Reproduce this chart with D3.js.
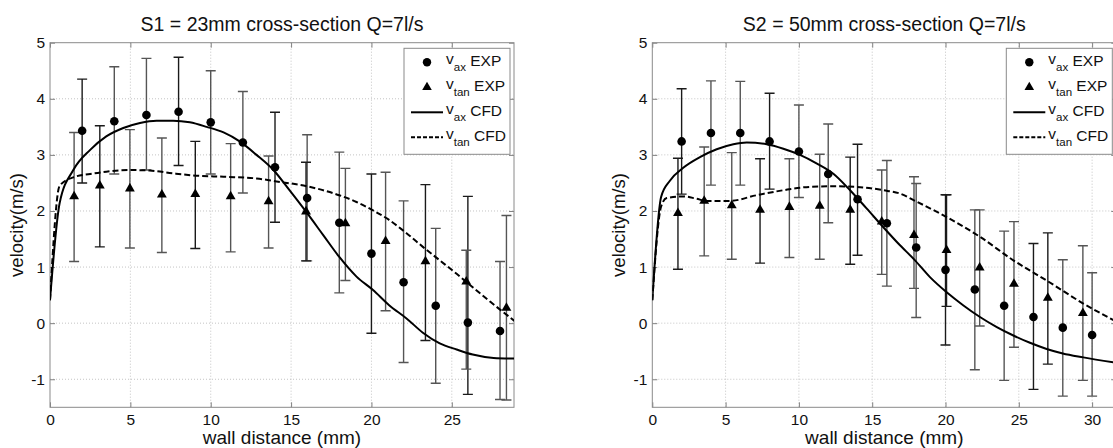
<!DOCTYPE html>
<html>
<head>
<meta charset="utf-8">
<script src="https://cdn.jsdelivr.net/npm/d3@7"></script>
<style>
  body { margin: 0; background: #fff; }
  text { font-family: "Liberation Sans", Arial, sans-serif; fill: #111; }
</style>
</head>
<body>
<svg id="canvas" width="1113" height="448"></svg>
<script>
// ---- S1 = 23mm cross-section ----
const s1AxX = [2, 4, 6, 8, 10, 12, 14, 16, 18, 20, 22, 24, 26, 28];
const s1AxV = [3.43, 3.6, 3.71, 3.77, 3.58, 3.22, 2.78, 2.23, 1.79, 1.24, 0.73, 0.31, 0.01, -0.14];
const s1AxLo = [2.5, 2.66, 2.73, 2.81, 2.66, 2.32, 1.8, 1.11, 0.54, -0.18, -0.7, -1.07, -1.27, -1.36];
const s1AxHi = [4.35, 4.57, 4.72, 4.74, 4.5, 4.13, 3.76, 3.36, 3.05, 2.66, 2.18, 1.69, 2.26, 1.1];

const s1TanX = [1.5, 3.1, 4.97, 6.96, 9.04, 11.24, 13.6, 15.93, 18.38, 20.88, 23.36, 25.9, 28.4];
const s1TanV = [2.26, 2.45, 2.4, 2.29, 2.3, 2.26, 2.17, 1.99, 1.78, 1.46, 1.1, 0.74, 0.27];
const s1TanLo = [1.1, 1.36, 1.34, 1.26, 1.33, 1.27, 1.34, 1.11, 0.76, 0.22, -0.31, -0.82, -1.37];
const s1TanHi = [3.4, 3.52, 3.45, 3.3, 3.24, 3.2, 2.98, 2.87, 2.76, 2.69, 2.47, 1.3, 1.92];

const s1CfdAxX = [0, 0.6, 1.45, 2.5, 3.5, 4.56, 5.6, 6.63, 7.67, 8.7, 9.74, 10.8, 11.8, 12.85, 13.9, 14.9, 16, 17, 18, 19.07, 20.1, 21.1, 22.2, 23.2, 24.25, 25.3, 26.3, 27.6, 28.9];
const s1CfdAxV = [0.41, 2.14, 2.73, 3.09, 3.33, 3.48, 3.57, 3.61, 3.61, 3.58, 3.5, 3.4, 3.24, 3.0, 2.73, 2.37, 1.96, 1.57, 1.18, 0.83, 0.59, 0.32, 0.08, -0.17, -0.36, -0.47, -0.56, -0.62, -0.63];
const s1CfdTanX = [0, 0.6, 1.45, 2.5, 3.5, 5.0, 6.2, 7.67, 9.1, 10.8, 12.85, 14.0, 16.0, 18.0, 19.07, 20.1, 21.1, 22.2, 23.2, 24.25, 25.3, 26.3, 27.4, 28.9];
const s1CfdTanV = [0.41, 2.45, 2.6, 2.66, 2.7, 2.73, 2.72, 2.67, 2.63, 2.61, 2.58, 2.53, 2.44, 2.28, 2.16, 2.01, 1.84, 1.6, 1.36, 1.12, 0.88, 0.64, 0.38, 0.04];

// ---- S2 = 50mm cross-section ----
const s2AxX = [2, 4, 6, 8, 10, 12, 14, 16, 18, 20, 22, 24, 26, 28, 30];
const s2AxV = [3.24, 3.39, 3.39, 3.24, 3.06, 2.66, 2.21, 1.78, 1.35, 0.95, 0.6, 0.31, 0.11, -0.08, -0.21];
const s2AxLo = [2.3, 2.46, 2.46, 2.39, 2.24, 1.79, 1.21, 0.66, 0.1, -0.39, -0.83, -1.02, -1.18, -1.3, -1.3];
const s2AxHi = [4.18, 4.32, 4.31, 4.1, 3.89, 3.55, 3.19, 2.9, 2.49, 2.29, 2.02, 1.64, 1.42, 1.13, 0.9];

const s2TanX = [1.75, 3.54, 5.42, 7.35, 9.35, 11.42, 13.5, 15.65, 17.85, 20.07, 22.33, 24.67, 26.98, 29.37];
const s2TanV = [1.96, 2.18, 2.1, 2.02, 2.07, 2.09, 2.02, 1.81, 1.57, 1.3, 0.99, 0.7, 0.45, 0.18];
const s2TanLo = [0.96, 1.2, 1.14, 1.07, 1.17, 1.14, 1.05, 0.87, 0.62, 0.3, -0.05, -0.43, -0.73, -1.02];
const s2TanHi = [2.94, 3.14, 3.04, 2.93, 2.93, 3.01, 2.96, 2.73, 2.61, 2.29, 2.02, 1.81, 1.61, 1.38];

const s2CfdAxX = [0, 0.6, 1.2, 2.11, 3.25, 4.39, 5.53, 6.44, 7.8, 8.94, 10.07, 11.2, 12.37, 13.49, 14.6, 15.76, 16.78, 17.92, 18.94, 20.08, 21.2, 22.35, 23.5, 24.63, 25.76, 26.9, 28.0, 29.4, 31.7];
const s2CfdAxV = [0.41, 2.25, 2.54, 2.77, 2.96, 3.1, 3.19, 3.22, 3.19, 3.11, 3.0, 2.85, 2.66, 2.37, 2.05, 1.71, 1.42, 1.12, 0.82, 0.55, 0.32, 0.11, -0.07, -0.22, -0.35, -0.46, -0.54, -0.61, -0.71];
const s2CfdTanX = [0, 0.6, 0.98, 2.1, 3.0, 3.7, 5.3, 7.1, 8.94, 10.76, 12.58, 14.4, 15.76, 16.9, 17.85, 20.08, 22.35, 24.63, 26.9, 29.4, 31.7];
const s2CfdTanV = [0.41, 2.08, 2.23, 2.26, 2.22, 2.18, 2.18, 2.28, 2.37, 2.43, 2.44, 2.42, 2.37, 2.31, 2.19, 1.89, 1.54, 1.12, 0.76, 0.35, 0.02];

const s1XTicks = [0, 5, 10, 15, 20, 25];
const s2XTicks = [0, 5, 10, 15, 20, 25, 30];
const yTicks = [-1, 0, 1, 2, 3, 4, 5];
const legendLabels = [
  ["ax", "EXP"],
  ["tan", "EXP"],
  ["ax", "CFD"],
  ["tan", "CFD"],
];

const canvas = d3.select("#canvas");
const zip = (xs, ys) => xs.map((x, i) => ({ x: x, y: ys[i] }));
const bars = (xs, lo, hi) => xs.map((x, i) => ({ x: x, lo: lo[i], hi: hi[i] }));
const plain = (d) => String(d); // keep the ascii hyphen for negatives

const drawPanel = (p) => {
  const top = 42.7;
  const bottom = 407.3;
  const width = 464;
  const x = d3.scaleLinear().domain([0, p.xMax]).range([p.left, p.left + width]);
  const y = d3.scaleLinear().domain([-1.5, 5]).range([bottom, top]);
  const g = canvas.append("g");

  g.append("clipPath")
    .attr("id", p.id + "clip")
    .append("rect")
    .attr("x", p.left)
    .attr("y", top)
    .attr("width", width)
    .attr("height", bottom - top);

  // dotted grid
  g.selectAll(".gx")
    .data(p.xTicks.filter((t) => t > 0))
    .enter()
    .append("line")
    .attr("x1", (d) => x(d))
    .attr("x2", (d) => x(d))
    .attr("y1", top)
    .attr("y2", bottom)
    .attr("stroke", "#c4c4c4")
    .attr("stroke-dasharray", "1,2");
  g.selectAll(".gy")
    .data(yTicks.filter((t) => t < 5))
    .enter()
    .append("line")
    .attr("x1", p.left)
    .attr("x2", p.left + width)
    .attr("y1", (d) => y(d))
    .attr("y2", (d) => y(d))
    .attr("stroke", "#c4c4c4")
    .attr("stroke-dasharray", "1,2");

  // axes, ticks pointing inwards like matlab
  const axes = [
    [d3.axisBottom(x).tickValues(p.xTicks).tickSize(-5).tickPadding(7).tickFormat(plain), 0, bottom],
    [d3.axisTop(x).tickValues(p.xTicks).tickSize(-5).tickFormat(""), 0, top],
    [d3.axisLeft(y).tickValues(yTicks).tickSize(-5).tickPadding(5).tickFormat(plain), p.left, 0],
    [d3.axisRight(y).tickValues(yTicks).tickSize(-5).tickFormat(""), p.left + width, 0],
  ];
  axes.forEach(([ax, tx, ty]) => {
    const a = g.append("g").attr("transform", `translate(${tx},${ty})`).call(ax);
    a.select(".domain").remove();
    a.selectAll("line").attr("stroke", "#808080");
    a.selectAll("text").attr("font-size", 15.5).attr("fill", "#111").attr("font-family", null);
  });

  g.append("rect")
    .attr("x", p.left)
    .attr("y", top)
    .attr("width", width)
    .attr("height", bottom - top)
    .attr("fill", "none")
    .attr("stroke", "#8a8a8a");

  const plot = g.append("g").attr("clip-path", `url(#${p.id}clip)`);

  // error bars
  const errs = p.axBars.concat(p.tanBars);
  plot.selectAll(".err")
    .data(errs)
    .enter()
    .append("path")
    .attr("d", (d) => {
      const cx = x(d.x);
      return `M${cx - 5},${y(d.hi)}H${cx + 5}M${cx},${y(d.hi)}V${y(d.lo)}M${cx - 5},${y(d.lo)}H${cx + 5}`;
    })
    .attr("fill", "none")
    .attr("stroke", (d, i) => (i % 3 === 0 ? "#1a1a1a" : "#555"))
    .attr("stroke-width", 1.4);

  const line = d3.line()
    .x((d) => x(d.x))
    .y((d) => y(d.y))
    .curve(d3.curveMonotoneX);

  plot.append("path")
    .attr("d", line(p.cfdAx))
    .attr("fill", "none")
    .attr("stroke", "#000")
    .attr("stroke-width", 2);
  plot.append("path")
    .attr("d", line(p.cfdTan))
    .attr("fill", "none")
    .attr("stroke", "#000")
    .attr("stroke-width", 2)
    .attr("stroke-dasharray", "6,3");

  plot.selectAll(".dot")
    .data(p.ax)
    .enter()
    .append("circle")
    .attr("cx", (d) => x(d.x))
    .attr("cy", (d) => y(d.y))
    .attr("r", 4.3)
    .attr("fill", "#000");
  plot.selectAll(".tri")
    .data(p.tan)
    .enter()
    .append("path")
    .attr("d", d3.symbol(d3.symbolTriangle, 42))
    .attr("transform", (d) => `translate(${x(d.x)},${y(d.y)})`)
    .attr("fill", "#000");

  // legend
  const lx = p.left + width - 4 - 106;
  const ly = top + 5.6;
  const leg = g.append("g").attr("transform", `translate(${lx},${ly})`);
  leg.append("rect")
    .attr("width", 106)
    .attr("height", 106)
    .attr("fill", "#fff")
    .attr("stroke", "#8a8a8a");
  leg.append("circle").attr("cx", 23).attr("cy", 14).attr("r", 4.2).attr("fill", "#000");
  leg.append("path")
    .attr("d", d3.symbol(d3.symbolTriangle, 40))
    .attr("transform", "translate(23,39)")
    .attr("fill", "#000");
  leg.append("line").attr("x1", 7).attr("x2", 39).attr("y1", 64).attr("y2", 64)
    .attr("stroke", "#000").attr("stroke-width", 2);
  leg.append("line").attr("x1", 7).attr("x2", 39).attr("y1", 89).attr("y2", 89)
    .attr("stroke", "#000").attr("stroke-width", 2).attr("stroke-dasharray", "4,2");

  legendLabels.forEach(([sub, word], i) => {
    const t = leg.append("text")
      .attr("x", 42)
      .attr("y", 18 + i * 25)
      .attr("font-size", 15.5);
    t.append("tspan").attr("dy", -2).text("v");
    t.append("tspan").attr("dy", 7).attr("font-size", 11.5).text(sub);
    t.append("tspan").attr("dy", -5).text(" " + word);
  });

  // titles
  g.append("text")
    .attr("x", p.left + width / 2)
    .attr("y", 30.5)
    .attr("text-anchor", "middle")
    .attr("font-size", 19.5)
    .text(p.title);
  g.append("text")
    .attr("x", p.left + width / 2)
    .attr("y", 443.5)
    .attr("text-anchor", "middle")
    .attr("font-size", 19)
    .text("wall distance (mm)");
  g.append("text")
    .attr("transform", `translate(${p.left - 27},${(top + bottom) / 2}) rotate(-90)`)
    .attr("text-anchor", "middle")
    .attr("font-size", 18.5)
    .text("velocity(m/s)");
};

drawPanel({
  id: "s1",
  left: 50,
  xMax: 28.87,
  xTicks: s1XTicks,
  title: "S1 = 23mm cross-section Q=7l/s",
  ax: zip(s1AxX, s1AxV),
  tan: zip(s1TanX, s1TanV),
  axBars: bars(s1AxX, s1AxLo, s1AxHi),
  tanBars: bars(s1TanX, s1TanLo, s1TanHi),
  cfdAx: zip(s1CfdAxX, s1CfdAxV),
  cfdTan: zip(s1CfdTanX, s1CfdTanV),
});

drawPanel({
  id: "s2",
  left: 652.3,
  xMax: 31.65,
  xTicks: s2XTicks,
  title: "S2 = 50mm cross-section Q=7l/s",
  ax: zip(s2AxX, s2AxV),
  tan: zip(s2TanX, s2TanV),
  axBars: bars(s2AxX, s2AxLo, s2AxHi),
  tanBars: bars(s2TanX, s2TanLo, s2TanHi),
  cfdAx: zip(s2CfdAxX, s2CfdAxV),
  cfdTan: zip(s2CfdTanX, s2CfdTanV),
});
</script>
</body>
</html>
